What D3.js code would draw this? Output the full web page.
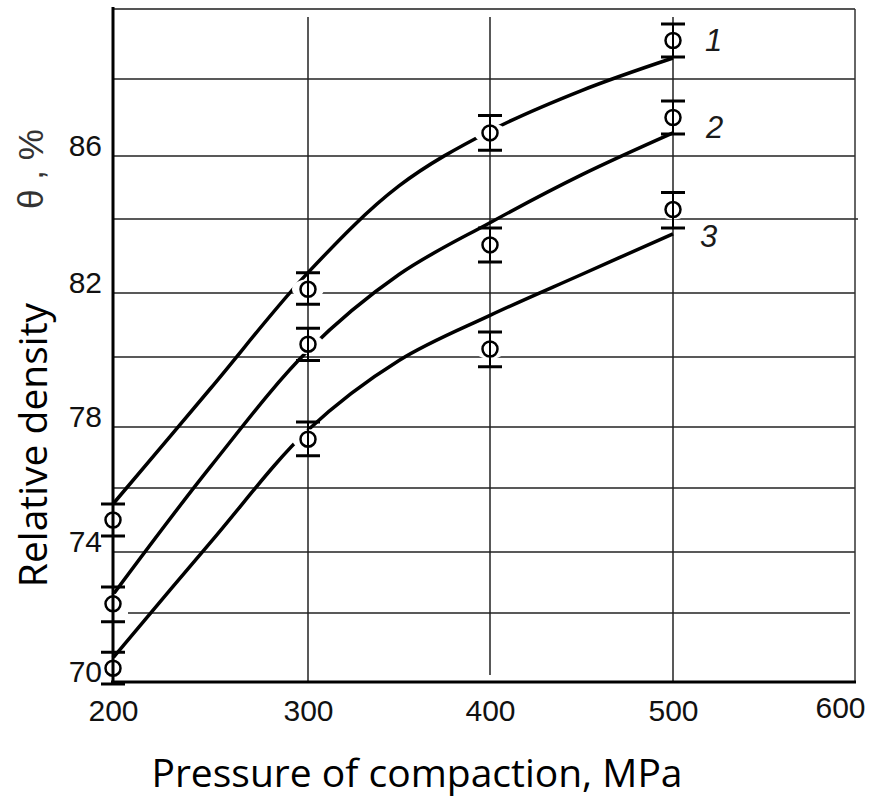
<!DOCTYPE html>
<html lang="en">
<head>
  <meta charset="UTF-8">
  <title>Relative density vs pressure of compaction</title>
  <script src="https://d3js.org/d3.v7.min.js"></script>
  <style>
    body {
      margin: 0;
      background: #fff;
    }
    svg {
      display: block;
    }
    .tick text {
      font-family: "Liberation Sans", Arial, sans-serif;
      font-size: 30px;
      fill: #111;
    }
    .axis-title {
      font-family: "Open Sans", Lato, sans-serif;
      font-size: 39px;
      fill: #000;
    }
    .series-label {
      font-family: "Liberation Sans", Arial, sans-serif;
      font-size: 31px;
      font-style: italic;
      fill: #1a1a1a;
    }
  </style>
</head>
<body>
  <svg id="chart"></svg>

  <script>
    // measured points (MPa -> relative density, %)
    const pressures = [200, 300, 400, 500];
    const density1 = [75.0, 82.1, 86.6, 89.1];
    const density2 = [72.3, 80.4, 83.3, 87.0];
    const density3 = [70.4, 77.6, 80.25, 84.3];
    const error1 = [0.5, 0.45, 0.45, 0.47];
    const error2 = [0.55, 0.5, 0.46, 0.43];
    const error3 = [0.46, 0.54, 0.53, 0.54];

    // fitted curves
    const curveX = [200, 250, 300, 350, 400, 450, 500];
    const fit1 = [75.5, 79.1, 82.55, 85.05, 86.65, 87.7, 88.6];
    const fit2 = [72.6, 76.7, 80.2, 82.5, 83.9, 85.4, 86.6];
    const fit3 = [70.7, 74.3, 77.9, 79.9, 81.3, 82.5, 83.6];

    const seriesNames = ["1", "2", "3"];
    const xTicks = [200, 300, 400, 500, 600];
    const yGrid = [70, 72, 74, 76, 78, 80, 82, 84, 86, 88, 90];
    const yLabels = [70, 74, 78, 82, 86];

    const width = 872;
    const height = 801;

    const svg = d3.select("#chart")
      .attr("width", width)
      .attr("height", height);

    // the scanned grid is a little uneven, so the scales follow the grid lines
    const x = d3.scaleLinear()
      .domain(xTicks)
      .range([113, 308, 490, 673, 855]);

    const y = d3.scaleLinear()
      .domain(yGrid)
      .range([682, 613, 552, 488, 427, 357, 293, 219, 156, 79, 9]);

    const xMin = x(200), xMax = x(600);
    const yMin = y(70), yMax = y(90);

    // grid
    const grid = svg.append("g").attr("stroke", "#222").attr("stroke-width", 1.5);

    grid.selectAll("line.h")
      .data(yGrid.filter(v => v > 70 && v < 90))
      .join("line")
      .attr("class", "h")
      .attr("x1", d => d === 72 ? xMin + 15 : xMin)
      .attr("x2", d => d === 72 ? xMax - 5 : (d === 84 ? xMax + 3 : xMax))
      .attr("y1", d => y(d))
      .attr("y2", d => y(d));

    grid.selectAll("line.v")
      .data(xTicks.slice(1, -1))
      .join("line")
      .attr("class", "v")
      .attr("x1", d => x(d))
      .attr("x2", d => x(d))
      .attr("y1", yMax + 8)
      .attr("y2", d => d === 400 ? yMin - 7 : yMin);

    // top and right frame
    svg.append("line")
      .attr("x1", xMin).attr("x2", xMax)
      .attr("y1", yMax).attr("y2", yMax)
      .attr("stroke", "#555").attr("stroke-width", 2);
    svg.append("line")
      .attr("x1", xMax).attr("x2", xMax)
      .attr("y1", yMax).attr("y2", yMin)
      .attr("stroke", "#333").attr("stroke-width", 1.5);

    // fitted curves
    const line = d3.line()
      .x(d => x(d[0]))
      .y(d => y(d[1]))
      .curve(d3.curveCatmullRom.alpha(0.5));

    const fits = [fit1, fit2, fit3];
    svg.append("g")
      .selectAll("path")
      .data(fits)
      .join("path")
      .attr("d", f => line(curveX.map((p, i) => [p, f[i]])))
      .attr("fill", "none")
      .attr("stroke", "#000")
      .attr("stroke-width", 3.5);

    // points with error bars
    const series = [
      { values: density1, errors: error1 },
      { values: density2, errors: error2 },
      { values: density3, errors: error3 }
    ];
    const points = series.flatMap(s => pressures.map((p, i) => ({
      p: p, v: s.values[i], e: s.errors[i]
    })));

    // white gap round every marker, as in the original drawing
    svg.append("g")
      .selectAll("ellipse")
      .data(points)
      .join("ellipse")
      .attr("cx", d => x(d.p))
      .attr("cy", d => y(d.v))
      .attr("rx", 16)
      .attr("ry", 10)
      .attr("fill", "#fff");

    // axes
    const xAxis = svg.append("g")
      .attr("transform", `translate(0,${yMin})`)
      .call(d3.axisBottom(x).tickValues(xTicks).tickSize(0).tickPadding(18));
    xAxis.select(".domain").remove();
    xAxis.selectAll(".tick")
      .filter(d => d === 600)
      .select("text")
      .attr("x", -15)
      .attr("dy", "0.6em");

    const yAxis = svg.append("g")
      .attr("transform", `translate(${xMin},0)`)
      .call(d3.axisLeft(y).tickValues(yLabels).tickSize(0).tickPadding(11));
    yAxis.select(".domain").remove();
    yAxis.selectAll(".tick text").attr("dy", "-0.03em");

    svg.append("line")
      .attr("x1", xMin).attr("x2", xMin)
      .attr("y1", yMax - 2).attr("y2", yMin + 2)
      .attr("stroke", "#000").attr("stroke-width", 3);
    svg.append("line")
      .attr("x1", xMin - 2).attr("x2", xMax + 1)
      .attr("y1", yMin).attr("y2", yMin)
      .attr("stroke", "#000").attr("stroke-width", 3);

    const marks = svg.append("g").attr("stroke", "#000");

    marks.selectAll("line.bar")
      .data(points)
      .join("line")
      .attr("class", "bar")
      .attr("x1", d => x(d.p)).attr("x2", d => x(d.p))
      .attr("y1", d => y(d.v + d.e)).attr("y2", d => y(d.v - d.e))
      .attr("stroke-width", 2);

    marks.selectAll("path.cap")
      .data(points)
      .join("path")
      .attr("class", "cap")
      .attr("d", d => {
        const cx = x(d.p);
        return `M${cx - 12},${y(d.v + d.e)}H${cx + 12}M${cx - 12},${y(d.v - d.e)}H${cx + 12}`;
      })
      .attr("stroke-width", 3);

    marks.selectAll("circle")
      .data(points)
      .join("circle")
      .attr("cx", d => x(d.p))
      .attr("cy", d => y(d.v))
      .attr("r", 7.5)
      .attr("fill", "none")
      .attr("stroke-width", 2.5);

    // curve numbers next to the last points
    const labelShift = [[32, 10], [33, 20], [27, 37]];
    svg.append("g")
      .selectAll("text")
      .data(seriesNames)
      .join("text")
      .attr("class", "series-label")
      .attr("x", (d, i) => x(500) + labelShift[i][0])
      .attr("y", (d, i) => y(series[i].values[3]) + labelShift[i][1])
      .text(d => d);

    // axis titles
    svg.append("text")
      .attr("class", "axis-title")
      .attr("text-anchor", "middle")
      .attr("x", 417)
      .attr("y", 787)
      .text("Pressure of compaction, MPa");

    svg.append("text")
      .attr("class", "axis-title")
      .attr("text-anchor", "middle")
      .attr("transform", "translate(47,445) rotate(-90)")
      .text("Relative density");

    svg.append("text")
      .attr("text-anchor", "middle")
      .attr("transform", "translate(43,169) rotate(-90)")
      .attr("font-family", "Liberation Sans, Arial, sans-serif")
      .attr("font-size", 35)
      .attr("fill", "#333")
      .text("θ , %");
  </script>
</body>
</html>
